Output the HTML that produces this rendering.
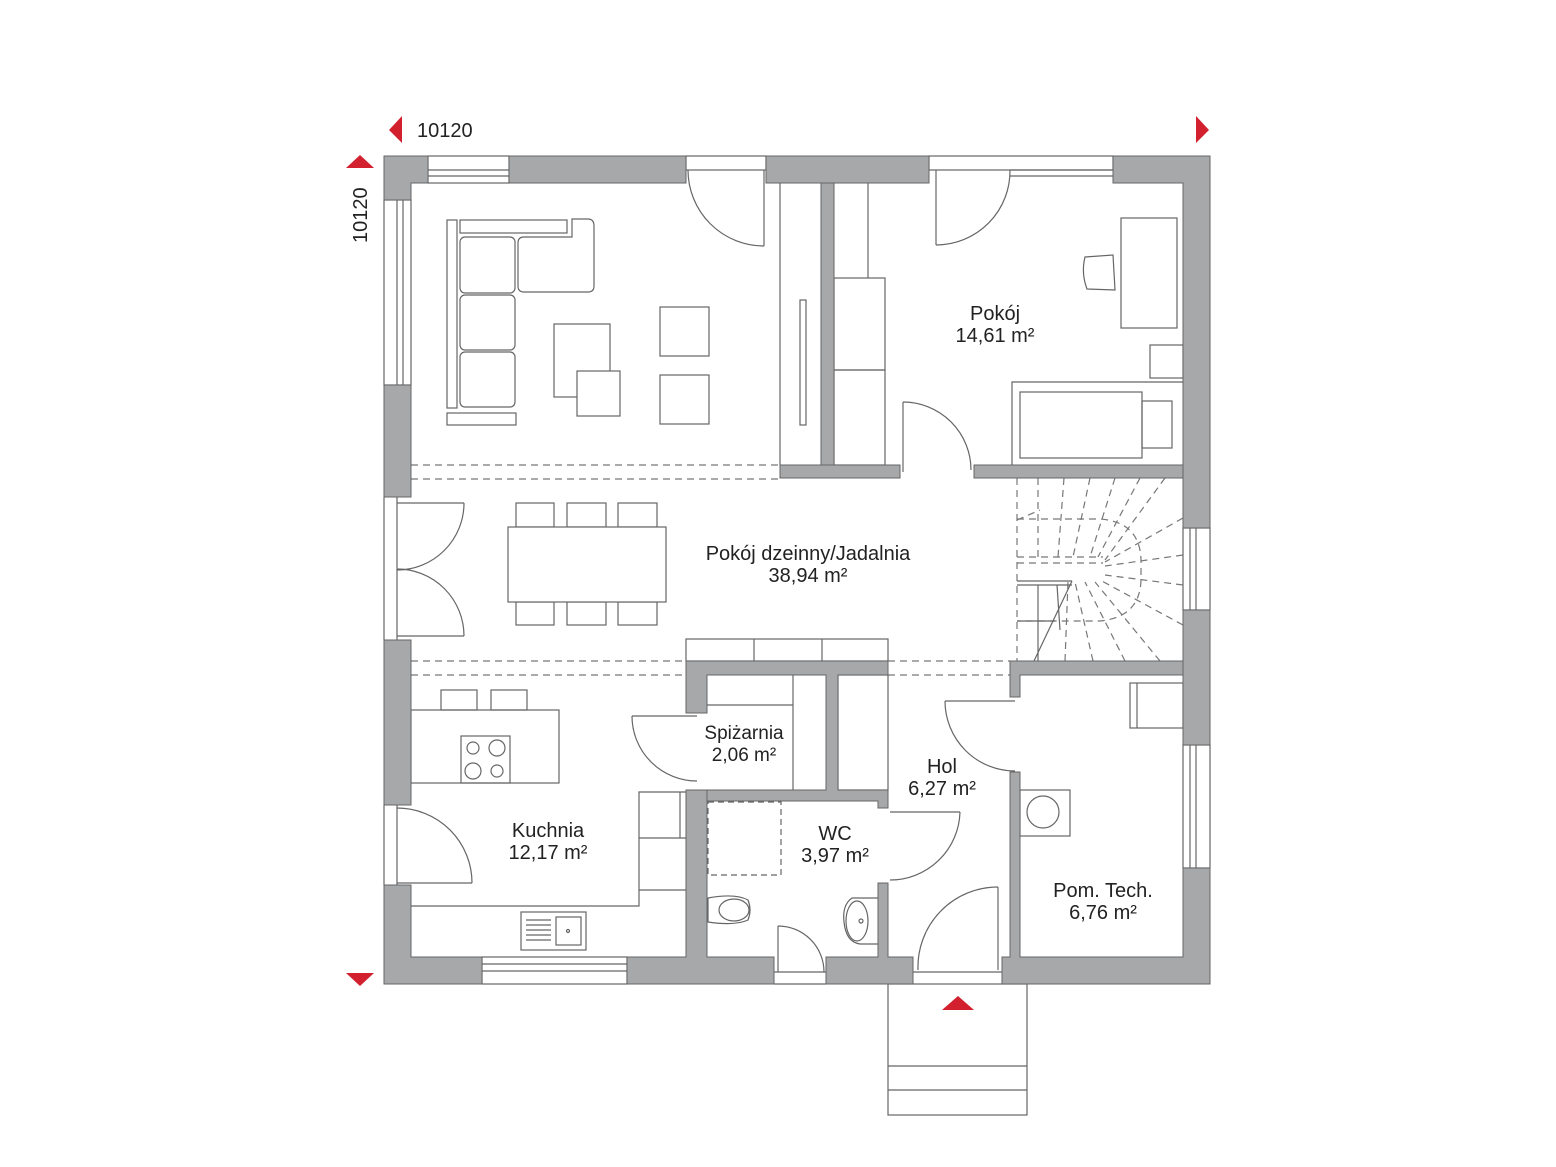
<!DOCTYPE html>
<html><head><meta charset="utf-8"><style>
html,body{margin:0;padding:0;background:#fff}
svg{display:block}
text{font-family:"Liberation Sans",sans-serif;fill:#222}
</style></head><body>
<svg width="1556" height="1167" viewBox="0 0 1556 1167" xmlns="http://www.w3.org/2000/svg">
<g fill="none" stroke="#666" stroke-width="1.2">
<!-- windows / openings outlines -->
<rect x="428" y="156" width="81" height="27"/><line x1="428" y1="170" x2="509" y2="170"/><line x1="428" y1="176" x2="509" y2="176"/>
<rect x="686" y="156" width="80" height="14"/>
<rect x="929" y="156" width="184" height="14"/><line x1="1010" y1="170" x2="1113" y2="170"/><line x1="1010" y1="176" x2="1113" y2="176"/>
<rect x="384" y="200" width="27" height="185"/><line x1="397" y1="200" x2="397" y2="385"/><line x1="403" y1="200" x2="403" y2="385"/>
<line x1="397" y1="497" x2="397" y2="640"/><line x1="384" y1="497" x2="384" y2="640"/>
<line x1="397" y1="805" x2="397" y2="885"/><line x1="384" y1="805" x2="384" y2="885"/>
<rect x="482" y="957" width="145" height="27"/><line x1="482" y1="964" x2="627" y2="964"/><line x1="482" y1="971" x2="627" y2="971"/>
<rect x="1183" y="528" width="27" height="82"/><line x1="1190" y1="528" x2="1190" y2="610"/><line x1="1196" y1="528" x2="1196" y2="610"/>
<rect x="1183" y="745" width="27" height="123"/><line x1="1190" y1="745" x2="1190" y2="868"/><line x1="1196" y1="745" x2="1196" y2="868"/>
<line x1="774" y1="984" x2="826" y2="984"/><line x1="774" y1="972" x2="826" y2="972"/>
<line x1="913" y1="972" x2="1002" y2="972"/>
<!-- doors -->
<line x1="764" y1="170" x2="764" y2="246"/><path d="M688 170 A76 76 0 0 0 764 246"/>
<line x1="936" y1="170" x2="936" y2="245"/><path d="M1010 170 A74 74 0 0 1 936 245"/>
<line x1="903" y1="402" x2="903" y2="472"/><path d="M903 402 A68 68 0 0 1 971 470"/>
<line x1="397" y1="503" x2="464" y2="503"/><path d="M464 503 A67 67 0 0 1 397 570"/>
<line x1="397" y1="636" x2="464" y2="636"/><path d="M397 569 A67 67 0 0 1 464 636"/>
<line x1="397" y1="883" x2="472" y2="883"/><path d="M397 808 A75 75 0 0 1 472 883"/>
<line x1="632" y1="716" x2="697" y2="716"/><path d="M632 716 A65 65 0 0 0 697 781"/>
<line x1="890" y1="812" x2="960" y2="812"/><path d="M960 812 A70 70 0 0 1 890 880"/>
<line x1="945" y1="701" x2="1015" y2="701"/><path d="M945 701 A70 70 0 0 0 1015 771"/>
<line x1="778" y1="926" x2="778" y2="972"/><path d="M778 926 A46 46 0 0 1 824 972"/>
<line x1="998" y1="887" x2="998" y2="970"/><path d="M998 887 A80 80 0 0 0 918 970"/>
<!-- living furniture -->
<rect x="447" y="220" width="10" height="188"/>
<rect x="460" y="220" width="107" height="13"/>
<path d="M572 219 H588 Q594 219 594 226 V286 Q594 292 588 292 H524 Q518 292 518 286 V243 Q518 237 524 237 H572 Z"/>
<rect x="460" y="237" width="55" height="56" rx="5"/>
<rect x="460" y="295" width="55" height="55" rx="5"/>
<rect x="460" y="352" width="55" height="55" rx="5"/>
<rect x="447" y="413" width="69" height="12"/>
<rect x="554" y="324" width="56" height="73"/>
<rect x="577" y="371" width="43" height="45" fill="#fff"/>
<rect x="660" y="307" width="49" height="49"/>
<rect x="660" y="375" width="49" height="49"/>
<!-- wardrobes -->
<line x1="780" y1="183" x2="780" y2="465"/>
<rect x="800" y="300" width="6" height="125"/>
<line x1="868" y1="183" x2="868" y2="278"/>
<rect x="834" y="278" width="51" height="92"/><rect x="834" y="370" width="51" height="95"/>
<!-- Pokoj furniture -->
<rect x="1121" y="218" width="56" height="110"/>
<path d="M1085 257 L1113 255 L1115 290 L1087 289 Q1081 273 1085 257 Z"/>
<rect x="1150" y="345" width="33" height="33"/>
<path d="M1012 465 V382 H1183"/>
<rect x="1020" y="392" width="122" height="66"/>
<rect x="1142" y="401" width="30" height="47"/>
<!-- dining -->
<rect x="516" y="503" width="38" height="24"/><rect x="567" y="503" width="39" height="24"/><rect x="618" y="503" width="39" height="24"/>
<rect x="516" y="602" width="38" height="23"/><rect x="567" y="602" width="39" height="23"/><rect x="618" y="602" width="39" height="23"/>
<rect x="508" y="527" width="158" height="75" fill="#fff"/>
<!-- cabinets above pantry -->
<rect x="686" y="639" width="202" height="22"/><line x1="754" y1="639" x2="754" y2="661"/><line x1="822" y1="639" x2="822" y2="661"/>
<!-- kitchen -->
<rect x="441" y="690" width="36" height="20"/><rect x="491" y="690" width="36" height="20"/>
<rect x="411" y="710" width="148" height="73"/>
<rect x="461" y="736" width="49" height="47"/>
<circle cx="473" cy="748" r="6"/><circle cx="497" cy="748" r="8"/><circle cx="473" cy="771" r="8"/><circle cx="497" cy="771" r="6"/>
<path d="M411 906 H639 V792 H686"/>
<line x1="639" y1="838" x2="686" y2="838"/><line x1="639" y1="890" x2="686" y2="890"/>
<line x1="680" y1="792" x2="680" y2="838"/>
<rect x="521" y="912" width="65" height="38"/><rect x="556" y="917" width="25" height="28"/>
<line x1="526" y1="920" x2="551" y2="920"/><line x1="526" y1="925" x2="551" y2="925"/><line x1="526" y1="930" x2="551" y2="930"/><line x1="526" y1="935" x2="551" y2="935"/><line x1="526" y1="940" x2="551" y2="940"/>
<circle cx="568" cy="931" r="1.5"/>
<!-- pantry -->
<line x1="793" y1="675" x2="793" y2="790"/><line x1="707" y1="705" x2="793" y2="705"/>
<rect x="838" y="675" width="50" height="115"/>
<!-- WC -->
<rect x="708" y="802" width="73" height="73" stroke-dasharray="6 4"/>
<path d="M708 898 Q735 893 748 900 Q752 910 748 920 Q735 926 708 922 Z"/><ellipse cx="734" cy="910" rx="15" ry="11"/>
<path d="M878 898 H852 Q842 905 844 922 Q846 942 860 944 H878"/><ellipse cx="857" cy="921" rx="11" ry="20"/><circle cx="861" cy="921" r="2"/>
<!-- Pom tech -->
<rect x="1130" y="683" width="53" height="45"/><line x1="1137" y1="683" x2="1137" y2="728"/>
<rect x="1020" y="790" width="50" height="46"/><circle cx="1043" cy="812" r="16"/>
<!-- entrance steps -->
<rect x="888" y="984" width="139" height="131"/><line x1="888" y1="1066" x2="1027" y2="1066"/><line x1="888" y1="1090" x2="1027" y2="1090"/>
</g>
<!-- dashed lines -->
<g stroke="#777" stroke-width="1.2" stroke-dasharray="7 5" fill="none">
<line x1="411" y1="465" x2="780" y2="465"/><line x1="411" y1="479" x2="780" y2="479"/>
<line x1="411" y1="661" x2="686" y2="661"/><line x1="411" y1="675" x2="686" y2="675"/>
<line x1="888" y1="661" x2="1010" y2="661"/><line x1="888" y1="675" x2="1010" y2="675"/>
<!-- stairs -->
<line x1="1017" y1="478" x2="1017" y2="661"/>
<path d="M1017 519 H1100 Q1140 522 1141 560 V580 Q1140 617 1100 621 H1017"/>
<path d="M1017 557 H1103 M1017 563 H1103"/>
<line x1="1038" y1="478" x2="1038" y2="557"/><line x1="1064" y1="478" x2="1058" y2="557"/><line x1="1090" y1="478" x2="1073" y2="557"/>
<line x1="1115" y1="478" x2="1090" y2="557"/><line x1="1140" y1="478" x2="1098" y2="557"/><line x1="1165" y1="478" x2="1105" y2="560"/>
<line x1="1183" y1="518" x2="1105" y2="562"/><line x1="1183" y1="555" x2="1105" y2="566"/><line x1="1183" y1="585" x2="1105" y2="575"/>
<line x1="1183" y1="625" x2="1100" y2="580"/><line x1="1160" y1="661" x2="1095" y2="582"/><line x1="1125" y1="661" x2="1085" y2="582"/>
<line x1="1093" y1="661" x2="1075" y2="582"/><line x1="1065" y1="661" x2="1068" y2="582"/>
<line x1="1017" y1="520" x2="1040" y2="510"/>
</g>
<g stroke="#666" stroke-width="1.2" fill="none">
<path d="M1017 581 H1072 M1017 585 H1072"/><line x1="1072" y1="581" x2="1034" y2="661"/>
<line x1="1038" y1="585" x2="1038" y2="661"/><line x1="1057" y1="585" x2="1060" y2="630"/><line x1="1017" y1="621" x2="1055" y2="621"/>
</g>
<!-- walls -->
<g fill="#a7a8aa" stroke="#666" stroke-width="1">
<path d="M384 156 H428 V183 H411 V200 H384 Z"/>
<rect x="509" y="156" width="177" height="27"/>
<rect x="766" y="156" width="163" height="27"/>
<path d="M1113 156 H1210 V528 H1183 V183 H1113 Z"/>
<rect x="384" y="385" width="27" height="112"/>
<rect x="384" y="640" width="27" height="165"/>
<path d="M384 885 H411 V957 H482 V984 H384 Z"/>
<path d="M627 957 H686 V790 H707 V957 H774 V984 H627 Z"/>
<path d="M826 957 H878 V883 H888 V957 H913 V984 H826 Z"/>
<path d="M1002 957 H1010 V772 H1020 V957 H1183 V868 H1210 V984 H1002 Z"/>
<rect x="1183" y="610" width="27" height="135"/>
<rect x="821" y="183" width="13" height="282"/>
<rect x="780" y="465" width="120" height="13"/>
<rect x="974" y="465" width="209" height="13"/>
<path d="M686 661 H888 V675 H838 V790 H888 V808 H878 V801 H707 V790 H826 V675 H707 V713 H686 Z"/>
<path d="M1010 661 H1183 V675 H1020 V697 H1010 Z"/>
</g>
<!-- red markers -->
<g fill="#d3202e">
<polygon points="402,116 402,143 389,130"/>
<polygon points="1196,116 1196,143 1209,130"/>
<polygon points="346,168 374,168 360,155"/>
<polygon points="346,973 374,973 360,986"/>
<polygon points="942,1010 974,1010 958,996"/>
</g>
<text x="417" y="137" font-size="20">10120</text>
<text transform="translate(367,243) rotate(-90)" font-size="20">10120</text>
<g font-size="20" text-anchor="middle">
<text x="995" y="320">Pokój</text><text x="995" y="342">14,61 m²</text>
<text x="808" y="560">Pokój dzeinny/Jadalnia</text><text x="808" y="582">38,94 m²</text>
<text x="744" y="739" font-size="19">Spiżarnia</text><text x="744" y="761" font-size="19">2,06 m²</text>
<text x="942" y="773">Hol</text><text x="942" y="795">6,27 m²</text>
<text x="835" y="840">WC</text><text x="835" y="862">3,97 m²</text>
<text x="548" y="837">Kuchnia</text><text x="548" y="859">12,17 m²</text>
<text x="1103" y="897">Pom. Tech.</text><text x="1103" y="919">6,76 m²</text>
</g>
</svg>
</body></html>
